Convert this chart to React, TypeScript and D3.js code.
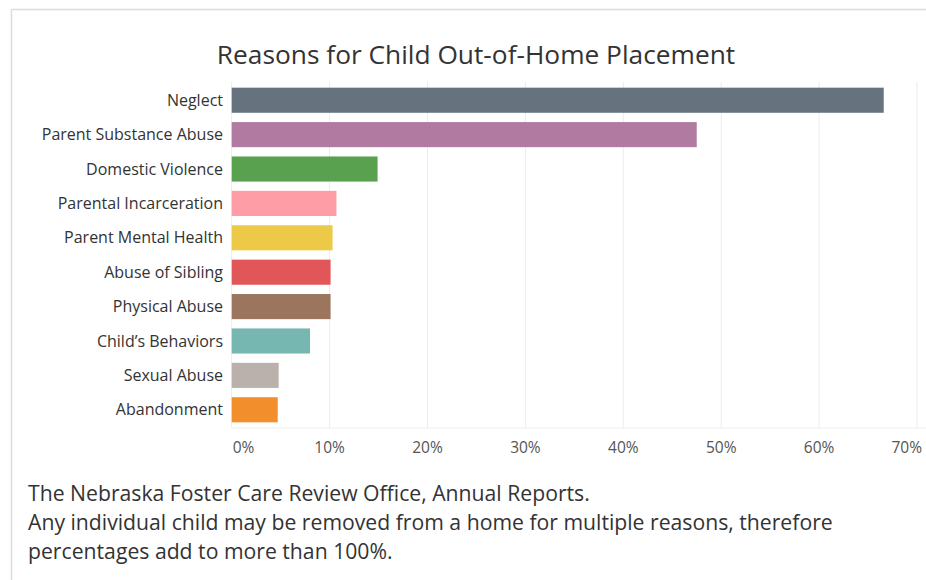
import React from "react";
import * as d3 from "d3";

const categories = [
  "Neglect",
  "Parent Substance Abuse",
  "Domestic Violence",
  "Parental Incarceration",
  "Parent Mental Health",
  "Abuse of Sibling",
  "Physical Abuse",
  "Child\u2019s Behaviors",
  "Sexual Abuse",
  "Abandonment",
];
const values = [0.666, 0.475, 0.149, 0.107, 0.103, 0.101, 0.101, 0.08, 0.048, 0.047];
const colors = [
  "#66737f",
  "#b07aa1",
  "#59a14f",
  "#ff9da7",
  "#edc948",
  "#e15759",
  "#9c755f",
  "#76b7b2",
  "#bab0ac",
  "#f28e2b",
];
const tickValues = [0, 0.1, 0.2, 0.3, 0.4, 0.5, 0.6, 0.7];
const title = "Reasons for Child Out-of-Home Placement";
const footnote = [
  "The Nebraska Foster Care Review Office, Annual Reports.",
  "Any individual child may be removed from a home for multiple reasons, therefore",
  "percentages add to more than 100%.",
];

const W = 926;
const H = 580;

export default function App() {
  const x = d3.scaleLinear().domain([0, 0.7]).range([231.7, 917]);
  const y = d3
    .scaleBand<string>()
    .domain(categories)
    .range([82, 428])
    .paddingInner(0.27)
    .paddingOuter(0.165);
  const fmt = d3.format(".0%");
  const font = "'Open Sans', 'Noto Sans', sans-serif";

  return (
    <svg
      width={W}
      height={H}
      style={{ position: "absolute", left: 0, top: 0, background: "#fff" }}
    >
      <rect x={0} y={0} width={W} height={H} fill="#fff" />
      {/* frame */}
      <line x1={11.5} x2={W} y1={9.5} y2={9.5} stroke="#dcdcdc" strokeWidth={1.5} />
      <line x1={11.5} x2={11.5} y1={9.5} y2={H} stroke="#dcdcdc" strokeWidth={1.5} />

      <text
        x={476}
        y={64}
        textAnchor="middle"
        fontFamily={font}
        fontSize={26.3}
        fill="#333"
      >
        {title}
      </text>

      {/* gridlines */}
      {tickValues.map((t) => (
        <line
          key={"g" + t}
          x1={x(t)}
          x2={x(t)}
          y1={82}
          y2={428}
          stroke="#ececec"
          strokeWidth={1}
        />
      ))}
      <line x1={x(0)} x2={W} y1={428} y2={428} stroke="#efefef" strokeWidth={1} />

      {/* bars */}
      {categories.map((c, i) => (
        <rect
          key={c}
          x={x(0)}
          y={y(c)}
          width={x(values[i]) - x(0)}
          height={y.bandwidth()}
          fill={colors[i]}
        />
      ))}

      {/* category labels */}
      {categories.map((c) => (
        <text
          key={"l" + c}
          x={223}
          y={(y(c) as number) + y.bandwidth() / 2}
          dy="0.35em"
          textAnchor="end"
          fontFamily={font}
          fontSize={16}
          fill="#333"
        >
          {c}
        </text>
      ))}

      {/* axis tick labels */}
      {tickValues.map((t, i) => {
        const px = x(t);
        let anchor = "middle";
        let tx = px;
        if (i === 0) {
          anchor = "start";
          tx = px + 1;
        } else if (i === tickValues.length - 1) {
          anchor = "end";
          tx = 922;
        }
        return (
          <text
            key={"t" + t}
            x={tx}
            y={448}
            dy="0.35em"
            textAnchor={anchor}
            fontFamily={font}
            fontSize={15.5}
            fill="#555"
          >
            {fmt(t)}
          </text>
        );
      })}

      {/* footnote */}
      {footnote.map((line, i) => (
        <text
          key={"f" + i}
          x={28}
          y={501 + i * 29}
          fontFamily={font}
          fontSize={21.2}
          fill="#333"
        >
          {line}
        </text>
      ))}
    </svg>
  );
}
